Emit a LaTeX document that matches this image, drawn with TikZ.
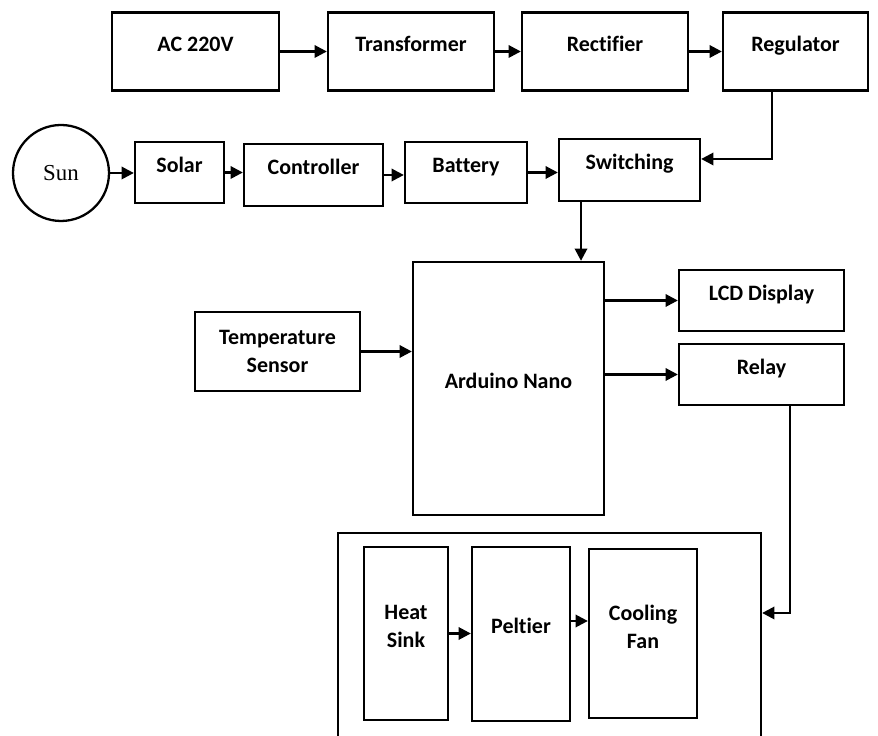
\documentclass[tikz,border=0pt]{standalone}
\usepackage{fontspec}
\setmainfont{Liberation Serif}
\newfontfamily\boxfont[Ligatures=NoCommon]{Carlito}
\usetikzlibrary{arrows.meta}

\begin{document}
\begin{tikzpicture}
[box/.style={draw,line width=1.3pt,inner sep=0pt,font=\boxfont\bfseries\fontsize{12.5}{15}\selectfont,text height=8pt,text depth=8pt},
 tall/.style={draw,line width=1.3pt,inner sep=0pt,align=center,font=\boxfont\bfseries\fontsize{12.5}{16}\selectfont},
 arr/.style={line width=1.4pt,-{Triangle[length=7pt,width=7pt]}}]
\useasboundingbox (0,0) rectangle (17.56,14.7);
\clip (0,0) rectangle (17.56,14.7);
\node[box,minimum width=3.34cm,minimum height=1.56cm] (ac) at (3.91,13.67) {AC 220V};
\node[box,minimum width=3.32cm,minimum height=1.56cm] (trans) at (8.22,13.67) {Transformer};
\node[box,minimum width=3.32cm,minimum height=1.56cm] (rect) at (12.10,13.67) {Rectifier};
\node[box,minimum width=2.90cm,minimum height=1.56cm] (reg) at (15.91,13.67) {Regulator};
\node[draw,circle,line width=1.3pt,minimum size=1.92cm,font=\fontsize{13}{15}\selectfont] (sun) at (1.22,11.24) {Sun};
\node[box,minimum width=1.78cm,minimum height=1.22cm] (solar) at (3.59,11.25) {Solar};
\node[box,minimum width=2.78cm,minimum height=1.24cm] (ctrl) at (6.27,11.20) {Controller};
\node[box,minimum width=2.44cm,minimum height=1.22cm] (batt) at (9.32,11.25) {Battery};
\node[box,minimum width=2.82cm,minimum height=1.24cm] (sw) at (12.59,11.30) {Switching};
\node[box,minimum width=3.82cm,minimum height=5.06cm] (ard) at (10.17,6.93) {Arduino Nano};
\node[box,minimum width=3.30cm,minimum height=1.22cm] (lcd) at (15.23,8.69) {LCD Display};
\node[box,minimum width=3.30cm,minimum height=1.22cm] (relay) at (15.23,7.21) {Relay};
\node[tall,minimum width=3.30cm,minimum height=1.58cm] (temp) at (5.55,7.67) {Temperature\\Sensor};
\node[draw,line width=1.3pt,minimum width=8.46cm,minimum height=4.64cm] (unit) at (10.99,1.72) {};
\node[tall,minimum width=1.68cm,minimum height=3.46cm] (heat) at (8.12,2.03) {Heat\\Sink\\[-8pt]};
\node[box,minimum width=1.96cm,minimum height=3.48cm] (pelt) at (10.42,2.02) {Peltier};
\node[tall,minimum width=2.16cm,minimum height=3.38cm] (fan) at (12.86,2.03) {Cooling\\Fan\\[-8pt]};
\foreach \a/\b in {ac/trans,trans/rect,rect/reg,sun/solar,solar/ctrl,ctrl/batt,batt/sw,temp/ard,heat/pelt}
\draw[arr] (\a) -- (\a -| \b.west);
\foreach \b in {lcd,relay}
\draw[arr] (\b -| ard.east) -- (\b);
\draw[arr] ([yshift=0.26cm]pelt.east) -- ([yshift=0.26cm]pelt.east -| fan.west);
\draw[arr] ([xshift=-0.47cm]reg.south) |- ([yshift=0.22cm]sw.east);
\draw[arr] ([xshift=-0.97cm]sw.south) coordinate (sdown) -- (sdown |- ard.north);
\draw[arr] ([xshift=0.57cm]relay.south) |- (unit.east |- 0,2.44);
\end{tikzpicture}
\end{document}
